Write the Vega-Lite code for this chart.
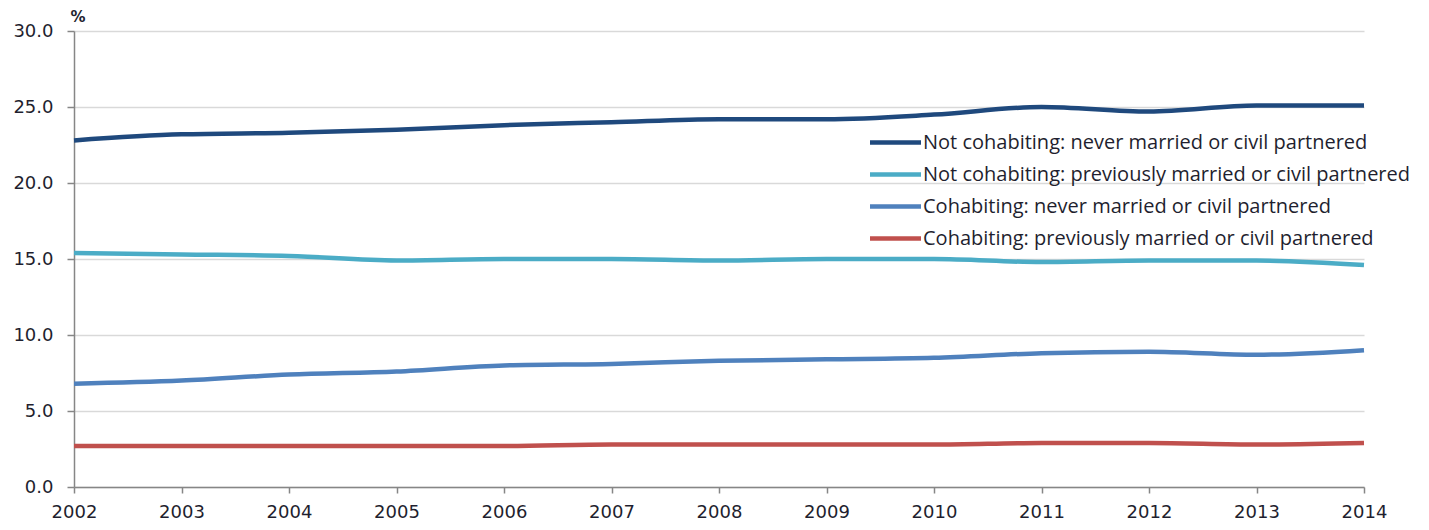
{
  "$schema": "https://vega.github.io/schema/vega-lite/v6.json",
  "width": 1290,
  "height": 456,
  "autosize": {"type": "none"},
  "padding": {"left": 74, "top": 31, "right": 65, "bottom": 43},
  "background": "white",
  "config": {
    "view": {"stroke": null},
    "font": "DejaVu Sans"
  },
  "data": {
    "values": [
      {"year": 2002, "series": "Not cohabiting: never married or civil partnered", "value": 22.8},
      {"year": 2003, "series": "Not cohabiting: never married or civil partnered", "value": 23.2},
      {"year": 2004, "series": "Not cohabiting: never married or civil partnered", "value": 23.3},
      {"year": 2005, "series": "Not cohabiting: never married or civil partnered", "value": 23.5},
      {"year": 2006, "series": "Not cohabiting: never married or civil partnered", "value": 23.8},
      {"year": 2007, "series": "Not cohabiting: never married or civil partnered", "value": 24.0},
      {"year": 2008, "series": "Not cohabiting: never married or civil partnered", "value": 24.2},
      {"year": 2009, "series": "Not cohabiting: never married or civil partnered", "value": 24.2},
      {"year": 2010, "series": "Not cohabiting: never married or civil partnered", "value": 24.5},
      {"year": 2011, "series": "Not cohabiting: never married or civil partnered", "value": 25.0},
      {"year": 2012, "series": "Not cohabiting: never married or civil partnered", "value": 24.7},
      {"year": 2013, "series": "Not cohabiting: never married or civil partnered", "value": 25.1},
      {"year": 2014, "series": "Not cohabiting: never married or civil partnered", "value": 25.1},
      {"year": 2002, "series": "Not cohabiting: previously married or civil partnered", "value": 15.4},
      {"year": 2003, "series": "Not cohabiting: previously married or civil partnered", "value": 15.3},
      {"year": 2004, "series": "Not cohabiting: previously married or civil partnered", "value": 15.2},
      {"year": 2005, "series": "Not cohabiting: previously married or civil partnered", "value": 14.9},
      {"year": 2006, "series": "Not cohabiting: previously married or civil partnered", "value": 15.0},
      {"year": 2007, "series": "Not cohabiting: previously married or civil partnered", "value": 15.0},
      {"year": 2008, "series": "Not cohabiting: previously married or civil partnered", "value": 14.9},
      {"year": 2009, "series": "Not cohabiting: previously married or civil partnered", "value": 15.0},
      {"year": 2010, "series": "Not cohabiting: previously married or civil partnered", "value": 15.0},
      {"year": 2011, "series": "Not cohabiting: previously married or civil partnered", "value": 14.8},
      {"year": 2012, "series": "Not cohabiting: previously married or civil partnered", "value": 14.9},
      {"year": 2013, "series": "Not cohabiting: previously married or civil partnered", "value": 14.9},
      {"year": 2014, "series": "Not cohabiting: previously married or civil partnered", "value": 14.6},
      {"year": 2002, "series": "Cohabiting: never married or civil partnered", "value": 6.8},
      {"year": 2003, "series": "Cohabiting: never married or civil partnered", "value": 7.0},
      {"year": 2004, "series": "Cohabiting: never married or civil partnered", "value": 7.4},
      {"year": 2005, "series": "Cohabiting: never married or civil partnered", "value": 7.6},
      {"year": 2006, "series": "Cohabiting: never married or civil partnered", "value": 8.0},
      {"year": 2007, "series": "Cohabiting: never married or civil partnered", "value": 8.1},
      {"year": 2008, "series": "Cohabiting: never married or civil partnered", "value": 8.3},
      {"year": 2009, "series": "Cohabiting: never married or civil partnered", "value": 8.4},
      {"year": 2010, "series": "Cohabiting: never married or civil partnered", "value": 8.5},
      {"year": 2011, "series": "Cohabiting: never married or civil partnered", "value": 8.8},
      {"year": 2012, "series": "Cohabiting: never married or civil partnered", "value": 8.9},
      {"year": 2013, "series": "Cohabiting: never married or civil partnered", "value": 8.7},
      {"year": 2014, "series": "Cohabiting: never married or civil partnered", "value": 9.0},
      {"year": 2002, "series": "Cohabiting: previously married or civil partnered", "value": 2.7},
      {"year": 2003, "series": "Cohabiting: previously married or civil partnered", "value": 2.7},
      {"year": 2004, "series": "Cohabiting: previously married or civil partnered", "value": 2.7},
      {"year": 2005, "series": "Cohabiting: previously married or civil partnered", "value": 2.7},
      {"year": 2006, "series": "Cohabiting: previously married or civil partnered", "value": 2.7},
      {"year": 2007, "series": "Cohabiting: previously married or civil partnered", "value": 2.8},
      {"year": 2008, "series": "Cohabiting: previously married or civil partnered", "value": 2.8},
      {"year": 2009, "series": "Cohabiting: previously married or civil partnered", "value": 2.8},
      {"year": 2010, "series": "Cohabiting: previously married or civil partnered", "value": 2.8},
      {"year": 2011, "series": "Cohabiting: previously married or civil partnered", "value": 2.9},
      {"year": 2012, "series": "Cohabiting: previously married or civil partnered", "value": 2.9},
      {"year": 2013, "series": "Cohabiting: previously married or civil partnered", "value": 2.8},
      {"year": 2014, "series": "Cohabiting: previously married or civil partnered", "value": 2.9}
    ]
  },
  "mark": {"type": "line", "strokeWidth": 4.5, "interpolate": "monotone", "strokeCap": "butt"},
  "encoding": {
    "x": {
      "field": "year",
      "type": "quantitative",
      "scale": {"domain": [2002, 2014], "nice": false, "zero": false},
      "axis": {
        "title": null,
        "values": [2002, 2003, 2004, 2005, 2006, 2007, 2008, 2009, 2010, 2011, 2012, 2013, 2014],
        "format": "d",
        "grid": false,
        "domainColor": "#868686",
        "domainWidth": 1.5,
        "tickColor": "#868686",
        "tickWidth": 1.5,
        "tickSize": 6,
        "labelFontSize": 18,
        "labelColor": "#1f1f2f",
        "labelPadding": 10,
        "labelFlush": false,
        "labelOverlap": false
      }
    },
    "y": {
      "field": "value",
      "type": "quantitative",
      "scale": {"domain": [0, 30], "nice": false},
      "axis": {
        "title": "%",
        "titleAngle": 0,
        "titleX": -4,
        "titleY": -7,
        "titleAlign": "left",
        "titleBaseline": "bottom",
        "titleFontSize": 15,
        "titleFontWeight": "bold",
        "titleColor": "#1f1f2f",
        "values": [0, 5, 10, 15, 20, 25, 30],
        "format": ".1f",
        "gridColor": "#d9d9d9",
        "gridWidth": 1.5,
        "domainColor": "#868686",
        "domainWidth": 1.5,
        "tickColor": "#868686",
        "tickWidth": 1.5,
        "tickSize": 7,
        "labelFontSize": 18,
        "labelColor": "#1f1f2f",
        "labelPadding": 14
      }
    },
    "color": {
      "field": "series",
      "type": "nominal",
      "scale": {
        "domain": [
          "Not cohabiting: never married or civil partnered",
          "Not cohabiting: previously married or civil partnered",
          "Cohabiting: never married or civil partnered",
          "Cohabiting: previously married or civil partnered"
        ],
        "range": ["#1F497D", "#4BACC6", "#4F81BD", "#C0504D"]
      },
      "legend": {
        "title": null,
        "orient": "none",
        "legendX": 804,
        "legendY": 94,
        "padding": 0,
        "symbolType": "M-1.7,0H1.7",
        "symbolSize": 900,
        "symbolStrokeWidth": 4.5,
        "labelOffset": 10,
        "rowPadding": 4,
        "labelFont": "Open Sans",
        "labelFontSize": 20,
        "labelColor": "#1f1f2f",
        "labelLimit": 600
      }
    }
  }
}
